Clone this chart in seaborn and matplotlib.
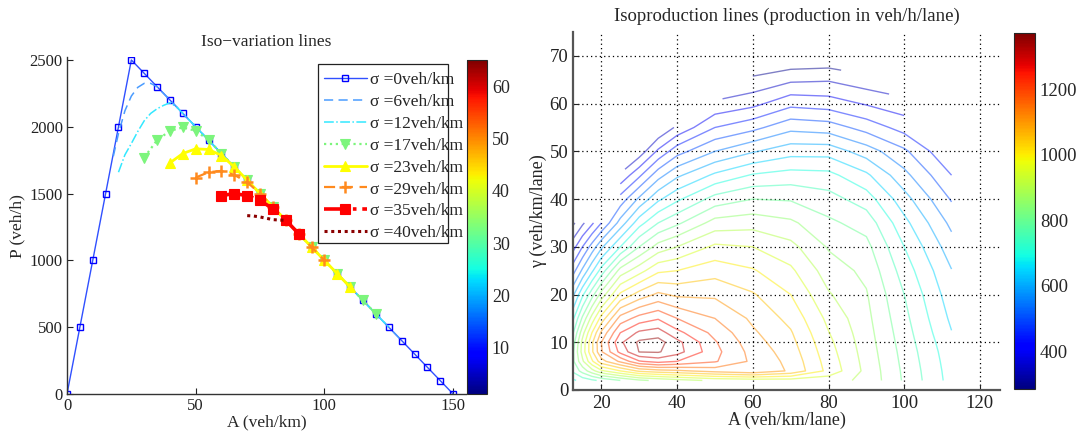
import numpy as np
import matplotlib
matplotlib.use("Agg")
import matplotlib.pyplot as plt
import matplotlib.patches as mpatches
import seaborn as sns
from matplotlib.colors import Normalize
from matplotlib.cm import ScalarMappable

# ---------------- Left panel: iso-variation lines ----------------
A_s0 = [0, 5, 10, 15, 20, 25, 30, 35, 40, 45, 50, 55, 60, 65, 70, 75, 80, 85, 90, 95,
        100, 105, 110, 115, 120, 125, 130, 135, 140, 145, 150]
P_s0 = [0, 500, 1000, 1500, 2000, 2500, 2400, 2300, 2200, 2100, 2000, 1900, 1800, 1700,
        1600, 1500, 1400, 1300, 1200, 1100, 1000, 900, 800, 700, 600, 500, 400, 300, 200, 100, 0]

A_s6 = [18, 20, 22.5, 25, 27.5, 30, 32.5, 35, 40, 45, 50, 55, 60, 65, 70, 75, 80, 85, 90,
        95, 100, 105, 110, 115, 120, 125, 130]
P_s6 = [1780, 1950, 2120, 2230, 2295, 2325, 2325, 2300, 2200, 2100, 2000, 1900, 1800, 1700,
        1600, 1500, 1400, 1300, 1200, 1100, 1000, 900, 800, 700, 600, 500, 400]

A_s12 = [20, 22.5, 25, 27.5, 30, 32.5, 35, 37.5, 40, 42.5, 45, 50, 55, 60, 65, 70, 75, 80,
         85, 90, 95, 100, 105, 110, 115, 120, 125]
P_s12 = [1660, 1790, 1875, 1965, 2045, 2100, 2135, 2160, 2180, 2150, 2100, 2000, 1900, 1800,
         1700, 1600, 1500, 1400, 1300, 1200, 1100, 1000, 900, 800, 700, 600, 500]

A_s17 = [30, 35, 40, 45, 50, 55, 60, 65, 70, 75, 80, 85, 90, 95, 100, 105, 110, 115, 120]
P_s17 = [1770, 1900, 1970, 1995, 1970, 1900, 1800, 1700, 1600, 1500, 1400, 1300, 1200, 1100,
         1000, 900, 800, 700, 600]

A_s23 = [40, 45, 50, 55, 60, 65, 70, 75, 80, 85, 90, 95, 100, 105, 110]
P_s23 = [1730, 1800, 1835, 1830, 1785, 1700, 1600, 1500, 1400, 1300, 1200, 1100, 1000, 900, 800]

A_s29 = [50, 55, 60, 65, 70, 75, 80, 85, 90, 95, 100]
P_s29 = [1620, 1660, 1670, 1640, 1585, 1500, 1400, 1300, 1200, 1100, 1000]

A_s35 = [60, 65, 70, 75, 80, 85, 90]
P_s35 = [1485, 1500, 1485, 1450, 1385, 1300, 1200]

A_s40 = [70, 72.5, 75, 77.5, 80, 82.5, 85]
P_s40 = [1335, 1332, 1325, 1315, 1305, 1302, 1300]

labels_left = ["σ =0veh/km", "σ =6veh/km", "σ =12veh/km", "σ =17veh/km",
               "σ =23veh/km", "σ =29veh/km", "σ =35veh/km", "σ =40veh/km"]

# ---------------- Right panel: isoproduction lines ----------------
A_cols = [12.5, 15, 17.5, 20, 25, 30, 35, 40, 50, 60, 70, 80, 90, 100, 112.5]
G_rows = [2, 4, 6, 8, 10, 12, 15, 20, 25, 30, 35, 40, 45, 50, 55, 60, 65, 68]
n = np.nan
Z_g2 = [690, 720, 740, 760, 800, 840, 860, 880, 910, 920, 925, 920, 888, 793, 680]
Z_g4 = [760, 820, 880, 940, 1000, 1060, 1080, 1090, 1120, 1145, 1092, 985, 886, 790, 677]
Z_g6 = [790, 890, 990, 1080, 1160, 1245, 1270, 1250, 1205, 1140, 1085, 978, 882, 786, 673]
Z_g8 = [790, 920, 1040, 1145, 1265, 1352, 1355, 1320, 1215, 1132, 1075, 970, 878, 782, 668]
Z_g10 = [775, 915, 1040, 1150, 1290, 1360, 1371, 1315, 1205, 1120, 1065, 962, 874, 777, 661]
Z_g12 = [745, 880, 1000, 1110, 1250, 1310, 1325, 1265, 1185, 1108, 1055, 952, 870, 772, 652]
Z_g15 = [690, 810, 920, 1020, 1170, 1220, 1245, 1200, 1150, 1090, 1035, 937, 864, 764, 640]
Z_g20 = [590, 690, 780, 870, 1010, 1070, 1110, 1090, 1090, 1055, 1000, 905, 854, 750, 622]
Z_g25 = [480, 560, 640, 720, 870, 930, 990, 1000, 1030, 1005, 960, 875, 838, 727, 602]
Z_g30 = [380, 450, 520, 590, 700, 800, 870, 900, 960, 950, 915, 845, 815, 700, 572]
Z_g35 = [290, 340, 390, 450, 570, 680, 750, 790, 870, 880, 860, 810, 780, 665, 537]
Z_g40 = [n, n, n, n, 470, 560, 640, 690, 770, 800, 795, 770, 725, 620, 495]
Z_g45 = [n, n, n, n, 360, 440, 530, 590, 660, 705, 720, 715, 660, 565, 450]
Z_g50 = [n, n, n, n, n, 320, 410, 480, 550, 595, 630, 630, 575, 510, 400]
Z_g55 = [n, n, n, n, n, n, 300, 360, 450, 485, 535, 525, 480, 430, n]
Z_g60 = [n, n, n, n, n, n, n, n, 360, 385, 435, 425, 395, 370, n]
Z_g65 = [n, n, n, n, n, n, n, n, n, 310, 340, 345, 320, n, n]
Z_g68 = [n, n, n, n, n, n, n, n, n, 270, 285, 290, n, n, n]
Z_rows = [Z_g2, Z_g4, Z_g6, Z_g8, Z_g10, Z_g12, Z_g15, Z_g20, Z_g25, Z_g30, Z_g35,
          Z_g40, Z_g45, Z_g50, Z_g55, Z_g60, Z_g65, Z_g68]
contour_levels = list(range(300, 1351, 50))

# ---------------- Figure ----------------
sns.set_style("ticks")
plt.rcParams['font.family'] = ['Liberation Serif', 'DejaVu Serif']
plt.rcParams['xtick.direction'] = 'in'
plt.rcParams['ytick.direction'] = 'in'

W, H = 1081, 432
fig = plt.figure(figsize=(W / 100, H / 100), dpi=100)
ax1 = fig.add_axes([67 / W, 1 - 394 / H, 399 / W, 336.7 / H])
cax1 = fig.add_axes([467 / W, 1 - 394 / H, 20 / W, 334 / H])
ax2 = fig.add_axes([573 / W, 1 - 390 / H, 427 / W, 358 / H])
cax2 = fig.add_axes([1014 / W, 1 - 389 / H, 21 / W, 356 / H])

styles = [
    (A_s0, P_s0, dict(color='#3050ff', linewidth=1.0, linestyle='-', marker='s', markersize=5,
                      markerfacecolor='none', markeredgecolor='#0000ff', markeredgewidth=1.0)),
    (A_s6, P_s6, dict(color='#4a9cff', linewidth=1.1, linestyle=(0, (6, 3.5)))),
    (A_s12, P_s12, dict(color='#33e8ff', linewidth=1.1, linestyle='-.')),
    (A_s17, P_s17, dict(color='#7cf57c', linewidth=1.6, linestyle=':', marker='v', markersize=7,
                        markerfacecolor='#7cf57c', markeredgecolor='#7cf57c', markeredgewidth=0.8)),
    (A_s23, P_s23, dict(color='#ffff00', linewidth=2.0, linestyle='-', marker='^', markersize=7,
                        markerfacecolor='#ffff00', markeredgecolor='#ffff00', markeredgewidth=0.8)),
    (A_s29, P_s29, dict(color='#ff8a1e', linewidth=1.6, linestyle=(0, (5, 3)), marker='+', markersize=8,
                        markeredgecolor='#ff8a1e', markeredgewidth=1.8)),
    (A_s35, P_s35, dict(color='#ff0000', linewidth=2.6, linestyle='-.', marker='s', markersize=7,
                        markerfacecolor='#ff0000', markeredgecolor='#ff0000', markeredgewidth=0.8)),
    (A_s40, P_s40, dict(color='#8b0000', linewidth=2.2, linestyle=(0, (1, 1.2)))),
]
for (xa, ya, kw), lab in zip(styles, labels_left):
    sns.lineplot(x=xa, y=ya, ax=ax1, label=lab, estimator=None, sort=False, **kw)

ax1.set_xlim(0, 155)
ax1.set_ylim(0, 2520)
ax1.set_xticks([0, 50, 100, 150])
ax1.set_yticks([0, 500, 1000, 1500, 2000, 2500])
ax1.tick_params(labelsize=12, length=4, width=0.8, colors='#222222', pad=3)
ax1.set_xlabel("A (veh/km)", fontsize=12.5, labelpad=0)
ax1.set_ylabel("P (veh/h)", fontsize=12.5, labelpad=3)
ax1.set_title("Iso\u2212variation lines", fontsize=12.5, pad=8)
for s in ['top', 'right']:
    ax1.spines[s].set_visible(False)
for s in ['left', 'bottom']:
    ax1.spines[s].set_color('#333333')
    ax1.spines[s].set_linewidth(1.0)

# legend: frame drawn separately so that (as in the original) long labels can overrun it
frame = mpatches.Rectangle((318 / W, 1 - 243 / H), 130 / W, 179 / H, transform=fig.transFigure,
                           facecolor='white', edgecolor='#222222', linewidth=0.9, zorder=4)
fig.patches.append(frame)
leg = ax1.legend(loc='upper left', bbox_to_anchor=(324 / W, 1 - 72 / H),
                 bbox_transform=fig.transFigure, fontsize=12.5, frameon=False,
                 handlelength=2.45, labelspacing=0.33, borderpad=0.0, handletextpad=0.2,
                 borderaxespad=0)
leg.set_zorder(6)
ax1.legend_ = None
fig.add_artist(leg)

sm1 = ScalarMappable(norm=Normalize(1.2, 65), cmap='jet')
cb1 = fig.colorbar(sm1, cax=cax1, ticks=[10, 20, 30, 40, 50, 60])
cb1.ax.tick_params(labelsize=13, length=3, direction='in')
cb1.outline.set_linewidth(0.8)

# Right: contour
Z = np.array(Z_rows, dtype=float)
Zm = np.ma.masked_invalid(Z)
norm2 = Normalize(286, 1371)
ax2.contour(np.array(A_cols), np.array(G_rows), Zm, levels=contour_levels, cmap='jet',
            norm=norm2, linewidths=1.0, alpha=0.5)
ax2.set_xlim(12.5, 125.3)
ax2.set_ylim(0, 75)
ax2.set_xticks([20, 40, 60, 80, 100, 120])
ax2.set_yticks([0, 10, 20, 30, 40, 50, 60, 70])
ax2.grid(True, color='black', linestyle=(0, (1, 2.5)), linewidth=0.9)
ax2.tick_params(labelsize=13.5, length=4, width=0.8, colors='#222222')
ax2.set_xlabel("A (veh/km/lane)", fontsize=13, labelpad=0)
ax2.set_ylabel("\u03b3 (veh/km/lane)", fontsize=13, labelpad=2)
ax2.set_title("Isoproduction lines (production in veh/h/lane)", fontsize=13.5, pad=8)
for s in ['top', 'right']:
    ax2.spines[s].set_visible(False)
for s in ['left', 'bottom']:
    ax2.spines[s].set_color('#555555')
    ax2.spines[s].set_linewidth(1.6)

sm2 = ScalarMappable(norm=norm2, cmap='jet')
cb2 = fig.colorbar(sm2, cax=cax2, ticks=[400, 600, 800, 1000, 1200])
cb2.ax.tick_params(labelsize=13.5, length=3, direction='in')
cb2.outline.set_linewidth(0.8)

fig.savefig("out.png", dpi=100)
